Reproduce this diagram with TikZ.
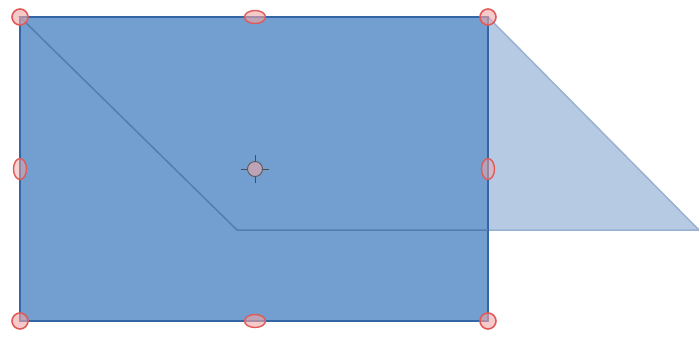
\documentclass[tikz,border=0pt]{standalone}
\usepackage{tikz}
\usetikzlibrary{shapes.geometric}
\definecolor{rectblue}{HTML}{729FCF}
\definecolor{rectedge}{HTML}{3465A4}
\definecolor{paralight}{HTML}{B6CBE3}
\definecolor{handlered}{HTML}{E05A5A}
\definecolor{handlefill}{HTML}{F2A7A7}

\begin{document}
\begin{tikzpicture}[x=1pt, y=-1pt,
    corner/.style={draw=handlered, fill=handlefill, fill opacity=0.6, line width=1.6pt, circle, inner sep=0pt, minimum size=16pt},
    sidehandle/.style={draw=handlered, fill=handlefill, fill opacity=0.5, line width=1.4pt, ellipse, inner sep=0pt, minimum width=13pt, minimum height=21pt},
    tophandle/.style={draw=handlered, fill=handlefill, fill opacity=0.6, line width=1.4pt, ellipse, inner sep=0pt, minimum width=21pt, minimum height=13pt},
    pivot/.style={draw=gray!70!black, fill=handlefill, fill opacity=0.6, line width=0.9pt, circle, inner sep=0pt, minimum size=15pt}]
        \useasboundingbox (0,0) rectangle (699,338);
        \coordinate (tl) at (20,17);
        \coordinate (tr) at (488,17);
        \coordinate (br) at (488,321);
        \coordinate (bl) at (20,321);
        \coordinate (pr) at (699,230);
        \coordinate (pl) at (237,230);
        % sheared copy behind
        \filldraw[fill=paralight, draw=rectedge!50, line width=1.5pt] (tl) -- (tr) -- (pr) -- (pl) -- cycle;
        % main rectangle
        \filldraw[fill=rectblue, draw=rectedge, line width=1.5pt] (tl) rectangle (br);
        \draw[rectedge!85, line width=1.5pt] (tl) -- (pl) -- (488,230);
        % handles
        \node[corner] (htl) at (tl) {};
        \node[corner] (htr) at (tr) {};
        \node[corner] (hbl) at (bl) {};
        \node[corner] (hbr) at (br) {};
        \node[tophandle] (htop) at (255,17) {};
        \node[tophandle] (hbot) at (255,321) {};
        \node[sidehandle] (hleft) at (20,169) {};
        \node[sidehandle] (hright) at (488,169) {};
        \node[pivot] (centre) at (255,169) {};
        \draw[gray!60!black, line width=0.9pt] (centre.north) -- ++(0,-6);
        \draw[gray!60!black, line width=0.9pt] (centre.south) -- ++(0,6);
        \draw[gray!60!black, line width=0.9pt] (centre.west) -- ++(-6,0);
        \draw[gray!60!black, line width=0.9pt] (centre.east) -- ++(6,0);
    \end{tikzpicture}
\end{document}
